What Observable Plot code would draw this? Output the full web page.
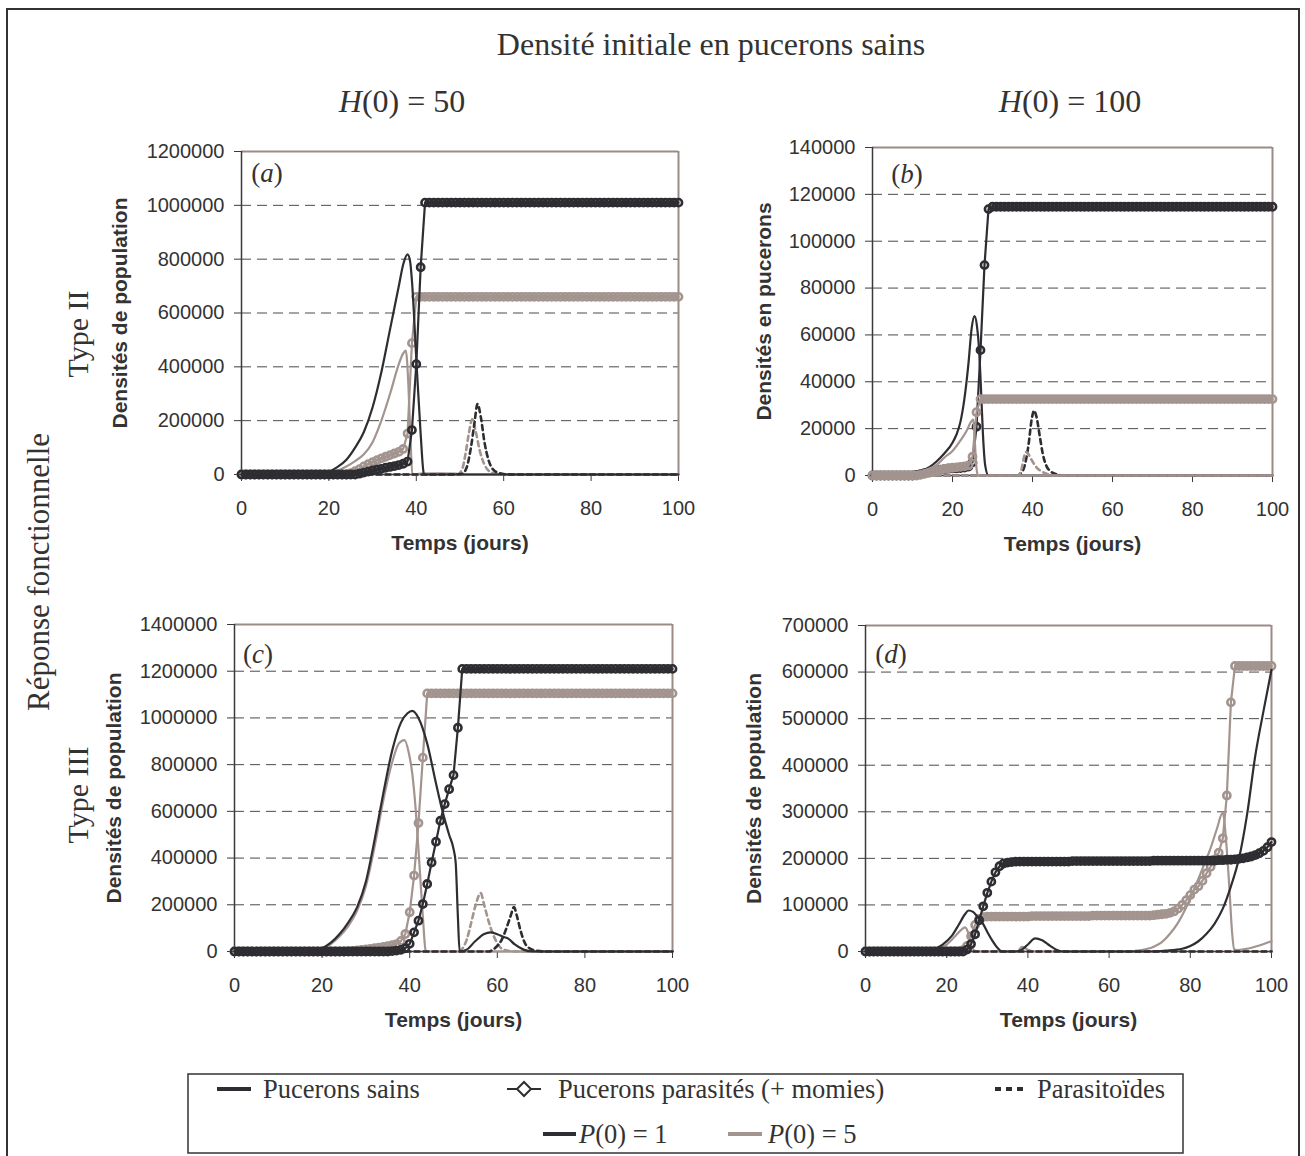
<!DOCTYPE html>
<html><head><meta charset="utf-8">
<script src="https://cdn.jsdelivr.net/npm/d3@7"></script>
<script src="https://cdn.jsdelivr.net/npm/@observablehq/plot@0.6"></script>
<style>
body{margin:0;background:#fff;}
#root{position:relative;width:1305px;height:1156px;overflow:hidden;background:#fff;}
.pn{position:absolute;}
#ov{position:absolute;left:0;top:0;}
</style>
</head><body>
<div id="root">
<svg id="ov" width="1305" height="1156" font-family="'Liberation Serif','Times New Roman',serif" fill="#333">
  <rect x="7" y="9" width="1292" height="1170" fill="none" stroke="#333" stroke-width="2"/>
  <text x="711" y="55" font-size="32" text-anchor="middle">Densité initiale en pucerons sains</text>
  <text x="402" y="112" font-size="32" text-anchor="middle"><tspan font-style="italic">H</tspan>(0) = 50</text>
  <text x="1070" y="112" font-size="32" text-anchor="middle"><tspan font-style="italic">H</tspan>(0) = 100</text>
  <text transform="translate(88,334) rotate(-90)" font-size="30" text-anchor="middle">Type II</text>
  <text transform="translate(88,795) rotate(-90)" font-size="30" text-anchor="middle">Type III</text>
  <text transform="translate(49,572) rotate(-90)" font-size="31" text-anchor="middle">Réponse fonctionnelle</text>
  <text x="267" y="182" font-size="27" text-anchor="middle">(<tspan font-style="italic">a</tspan>)</text>
  <text x="907" y="183" font-size="27" text-anchor="middle">(<tspan font-style="italic">b</tspan>)</text>
  <text x="258" y="663" font-size="27" text-anchor="middle">(<tspan font-style="italic">c</tspan>)</text>
  <text x="891" y="663" font-size="27" text-anchor="middle">(<tspan font-style="italic">d</tspan>)</text>
  <g id="legend">
    <rect x="188" y="1074" width="995" height="79" fill="#fff" stroke="#333" stroke-width="1.5"/>
    <line x1="217" x2="251" y1="1089" y2="1089" stroke="#2e2d32" stroke-width="4"/>
    <text x="263" y="1098" font-size="26.5">Pucerons sains</text>
    <line x1="507" x2="541" y1="1089" y2="1089" stroke="#2e2d32" stroke-width="2"/>
    <path d="M524,1082 L531,1089 L524,1096 L517,1089 Z" fill="#fff" stroke="#2e2d32" stroke-width="2"/>
    <text x="558" y="1098" font-size="26.5">Pucerons parasités (+ momies)</text>
    <line x1="995" x2="1026" y1="1089" y2="1089" stroke="#2e2d32" stroke-width="4" stroke-dasharray="6,5"/>
    <text x="1037" y="1098" font-size="26.5">Parasitoïdes</text>
    <line x1="543" x2="576" y1="1134" y2="1134" stroke="#2e2d32" stroke-width="4"/>
    <text x="579" y="1143" font-size="26.5"><tspan font-style="italic">P</tspan>(0) = 1</text>
    <line x1="728" x2="762" y1="1134" y2="1134" stroke="#a3948f" stroke-width="4"/>
    <text x="768" y="1143" font-size="26.5"><tspan font-style="italic">P</tspan>(0) = 5</text>
  </g>
</svg>
</div>
<script>
// ---------- DATA (population values in thousands) ----------
const xTicks = [0, 20, 40, 60, 80, 100];
const yTicksA = [0, 200000, 400000, 600000, 800000, 1000000, 1200000];
const yTicksB = [0, 20000, 40000, 60000, 80000, 100000, 120000, 140000];
const yTicksC = [0, 200000, 400000, 600000, 800000, 1000000, 1200000, 1400000];
const yTicksD = [0, 100000, 200000, 300000, 400000, 500000, 600000, 700000];

// Pucerons sains: [jour, densité (milliers)]
const aSain1 = [[0,0],[15,1],[18,4],[20,10],[22,28],[24,55],[26,100],[28,158],[30,250],[32,380],[34,540],[36,700],[37,780],[38,818],[38.6,790],[39,720],[40,430],[41,150],[41.7,5],[42,0],[100,0]];
const aSain5 = [[0,0],[18,2],[20,6],[22,15],[24,30],[26,50],[28,75],[30,120],[32,200],[34,300],[36,410],[37,450],[37.6,460],[38.2,330],[38.7,120],[39.1,0],[41,3],[45,4],[49,3],[51,0],[100,0]];
const bSain1 = [[0,0],[8,0.3],[10,0.8],[12,1.8],[14,3.3],[16,6],[18,9.5],[20,14],[21,17.5],[22,23],[23,33],[24,48],[24.8,63],[25.5,68],[26.1,64],[26.6,55],[27.1,38],[27.6,18],[28.2,4],[29,0],[100,0]];
const bSain5 = [[0,0],[10,0.8],[13,2.2],[16,4.5],[18,7.7],[20,10.5],[22,15],[23.5,19],[24.5,22.5],[25.2,24],[25.6,14],[26,3],[26.4,0],[100,0]];
const cSain1 = [[0,0],[16,1],[18,4],[20,14],[22,38],[24,75],[26,125],[28,190],[30,300],[32,480],[34,680],[36,860],[38,980],[39.5,1020],[40.6,1030],[42,1000],[44,890],[46,720],[47.5,600],[49,500],[50,440],[50.5,380],[51,150],[51.4,0],[53,8],[55,45],[57,75],[58.5,82],[60,74],[61.5,62],[62.5,55],[64,30],[66,8],[68,0],[100,0]];
const cSain5 = [[0,0],[16,1],[18,4],[20,12],[22,32],[24,65],[26,110],[28,175],[30,280],[32,450],[34,650],[36,810],[37.5,890],[38.8,905],[39.8,850],[40.6,760],[41.4,600],[42.2,380],[43,150],[43.7,0],[100,0]];
const dSain1 = [[0,0],[14,1],[16.4,4],[19,15],[21.3,34],[23,58],[24.5,80],[25.4,88],[26.5,85],[27.8,72],[28.7,63],[30,42],[31.2,24],[32.5,8],[33.6,0],[37,0],[38.5,4],[40,15],[41.8,28],[43.5,24],[45.5,12],[47,4],[48.5,0],[70,0],[74,2],[78,6],[80,12],[82,22],[84,38],[86,60],[88,92],[90,140],[92,200],[94,295],[96,420],[98,515],[100,605]];
const dSain5 = [[0,0],[15,1],[18,6],[20,15],[22,32],[23.5,46],[24.5,52],[25.3,40],[26,15],[26.8,2],[28,0],[37.5,0],[38.5,10],[39.3,7],[40.5,2],[42,0],[64,0],[68,3],[71,10],[73,20],[75,38],[77,62],[79,95],[81,135],[83,178],[85,222],[86.5,262],[88,298],[88.8,240],[89.6,140],[90.3,40],[90.8,5],[91.5,3],[94,6],[97,13],[100,22]];

// Pucerons parasités (+ momies): one value per day, days 0..100
const aPar1 = [
0,0,0,0,0,0,0,0,0,0,
0,0,0,0,0,0,0,0,0,0,
0,0,0,0,0,0,0,3,7,11,
15,18,21,25,28,31,35,40,48,165,
410,770,1010,1010,1010,1010,1010,1010,1010,1010,
1010,1010,1010,1010,1010,1010,1010,1010,1010,1010,
1010,1010,1010,1010,1010,1010,1010,1010,1010,1010,
1010,1010,1010,1010,1010,1010,1010,1010,1010,1010,
1010,1010,1010,1010,1010,1010,1010,1010,1010,1010,
1010,1010,1010,1010,1010,1010,1010,1010,1010,1010,
1010];
const aPar5 = [
0,0,0,0,0,0,0,0,0,0,
0,0,0,0,0,0,0,0,0,0,
0,0,0,0,0,5,12,20,30,38,
46,53,60,66,72,78,84,95,152,488,
660,660,660,660,660,660,660,660,660,660,
660,660,660,660,660,660,660,660,660,660,
660,660,660,660,660,660,660,660,660,660,
660,660,660,660,660,660,660,660,660,660,
660,660,660,660,660,660,660,660,660,660,
660,660,660,660,660,660,660,660,660,660,
660];
const bPar1 = [
0,0,0,0,0,0,0,0,0,0,
0,0.3,0.6,1,1.4,1.8,2.2,2.5,2.7,2.9,
3.0,3.1,3.2,3.4,3.8,5.6,20.8,53.5,89.8,113.7,
114.7,114.7,114.7,114.7,114.7,114.7,114.7,114.7,114.7,114.7,
114.7,114.7,114.7,114.7,114.7,114.7,114.7,114.7,114.7,114.7,
114.7,114.7,114.7,114.7,114.7,114.7,114.7,114.7,114.7,114.7,
114.7,114.7,114.7,114.7,114.7,114.7,114.7,114.7,114.7,114.7,
114.7,114.7,114.7,114.7,114.7,114.7,114.7,114.7,114.7,114.7,
114.7,114.7,114.7,114.7,114.7,114.7,114.7,114.7,114.7,114.7,
114.7,114.7,114.7,114.7,114.7,114.7,114.7,114.7,114.7,114.7,
114.7];
const bPar5 = [
0,0,0,0,0,0,0,0,0,0,
0,0,0.3,0.7,1.1,1.5,2.0,2.4,2.8,3.1,
3.3,3.5,3.7,3.9,4.3,8,27,32.6,32.6,32.6,
32.6,32.6,32.6,32.6,32.6,32.6,32.6,32.6,32.6,32.6,
32.6,32.6,32.6,32.6,32.6,32.6,32.6,32.6,32.6,32.6,
32.6,32.6,32.6,32.6,32.6,32.6,32.6,32.6,32.6,32.6,
32.6,32.6,32.6,32.6,32.6,32.6,32.6,32.6,32.6,32.6,
32.6,32.6,32.6,32.6,32.6,32.6,32.6,32.6,32.6,32.6,
32.6,32.6,32.6,32.6,32.6,32.6,32.6,32.6,32.6,32.6,
32.6,32.6,32.6,32.6,32.6,32.6,32.6,32.6,32.6,32.6,
32.6];
const cPar1 = [
0,0,0,0,0,0,0,0,0,0,
0,0,0,0,0,0,0,0,0,0,
0,0,0,0,0,0,0,0,0,0,
0,0,0,0,0,0,2,4,7,14,
33,82,132,203,289,381,470,560,631,695,
755,958,1210,1210,1210,1210,1210,1210,1210,1210,
1210,1210,1210,1210,1210,1210,1210,1210,1210,1210,
1210,1210,1210,1210,1210,1210,1210,1210,1210,1210,
1210,1210,1210,1210,1210,1210,1210,1210,1210,1210,
1210,1210,1210,1210,1210,1210,1210,1210,1210,1210,
1210];
const cPar5 = [
0,0,0,0,0,0,0,0,0,0,
0,0,0,0,0,0,0,0,0,0,
0,0,0,0,0,0,2,3,5,7,
9,11,14,17,20,23,27,32,45,75,
168,325,550,830,1105,1105,1105,1105,1105,1105,
1105,1105,1105,1105,1105,1105,1105,1105,1105,1105,
1105,1105,1105,1105,1105,1105,1105,1105,1105,1105,
1105,1105,1105,1105,1105,1105,1105,1105,1105,1105,
1105,1105,1105,1105,1105,1105,1105,1105,1105,1105,
1105,1105,1105,1105,1105,1105,1105,1105,1105,1105,
1105];
const dPar1 = [
0,0,0,0,0,0,0,0,0,0,
0,0,0,0,0,0,0,0,0,0,
0,0,0,0,0,4,16,37,67,97,
126,150,170,183,189,191,192,193,193,193,
193,193,193,193,193,193,193,193,193,193,
193,194,194,194,194,194,194,194,194,194,
194,194,194,194,194,194,194,194,194,194,
194,195,195,195,195,195,195,195,195,195,
195,195,195,195,195,195,195,196,196,197,
197,198,199,200,202,204,207,211,216,224,
235];
const dPar5 = [
0,0,0,0,0,0,0,0,0,0,
0,0,0,0,0,0,0,0,0,0,
0,0,0,0,3,12,33,57,70,74,
75,75,75,75,75,75,75,75,75,75,
75,76,76,76,76,76,76,76,76,76,
76,76,76,76,76,76,77,77,77,77,
77,77,77,77,77,77,77,77,77,77,
77,78,79,80,81,83,86,92,100,110,
121,133,140,152,168,182,198,212,243,335,
535,613,613,613,613,613,613,613,613,613,
613];

// Parasitoïdes: [jour, densité (milliers)]
const aPara1 = [[0,0],[46,0],[49,0.5],[50.5,3],[51.5,25],[52.5,100],[53.3,190],[54,262],[54.8,210],[55.6,120],[56.5,55],[57.5,20],[59,5],[61,0.5],[63,0],[100,0]];
const aPara5 = [[0,0],[46,0],[49.5,1],[50.5,20],[51.3,80],[52,150],[52.8,205],[53.6,160],[54.5,90],[55.5,40],[56.5,15],[58,4],[60,0],[100,0]];
const bPara1 = [[0,0],[36,0],[37,0.8],[38,4],[39,13],[39.8,24],[40.4,27.7],[41,25],[41.8,17],[42.6,9],[43.5,4],[44.5,1.8],[46,0.5],[48,0],[100,0]];
const bPara5 = [[0,0],[36.5,0],[37.3,3],[37.9,8],[38.4,10],[39,9],[40,6],[41,3.5],[42,2],[43.5,0.8],[45,0],[100,0]];
const cPara1 = [[0,0],[58,0],[59.5,15],[61,50],[62,95],[63,150],[63.8,190],[64.5,150],[65.3,90],[66.2,40],[67.5,12],[69,3],[71,0],[100,0]];
const cPara5 = [[0,0],[51,0],[52,12],[53,50],[54,120],[55,195],[56.2,250],[57,200],[58,130],[59,75],[60,35],[61,12],[62.5,3],[64,0],[100,0]];
const dPara1 = [[0,0],[100,0]];
const dPara5 = [[0,0],[100,0]];

// ---------- DRAWING ----------
const K = 1000;
const DARK = "#2e2d32", LIGHT = "#a3948f", FRAME = "#9a8b87", AX = "#3a3a3a";

function seriesMarks(sain, par, para, color) {
  const parData = par.map((v, i) => ({t: i, v: v * K}));
  return [
    Plot.line(sain, {x: d => d[0], y: d => d[1] * K, stroke: color, strokeWidth: 2.2, curve: "monotone-x"}),
    Plot.line(parData, {x: "t", y: "v", stroke: color, strokeWidth: 2.2}),
    Plot.dot(parData, {x: "t", y: "v", r: 3.6, stroke: color, strokeWidth: 2.6, fill: "none"}),
    Plot.line(para, {x: d => d[0], y: d => d[1] * K, stroke: color, strokeWidth: 2.6, strokeDasharray: "5,4", curve: "monotone-x"})
  ];
}

function panel(p) {
  const ymax = p.yTicks[p.yTicks.length - 1];
  const grid = p.yTicks.slice(1, -1);
  const chart = Plot.plot({
    width: p.width, height: p.height,
    marginLeft: p.mL, marginTop: p.mT, marginRight: p.mR, marginBottom: p.mB,
    x: {domain: [0, 100], axis: null},
    y: {domain: [0, ymax], axis: null},
    style: {background: "transparent", fontFamily: "'Liberation Sans', Arial, sans-serif", fontSize: "20px", color: "#333", overflow: "visible"},
    marks: [
      Plot.gridY(grid, {stroke: "#4a4a4a", strokeOpacity: 1, strokeWidth: 1, strokeDasharray: "10,6"}),
      Plot.ruleY([ymax], {stroke: FRAME, strokeWidth: 2}),
      Plot.ruleX([100], {stroke: FRAME, strokeWidth: 2}),
      Plot.ruleX([0], {stroke: AX, strokeWidth: 1.5}),
      Plot.ruleY([0], {stroke: AX, strokeWidth: 1.5}),
      Plot.axisY({ticks: p.yTicks, tickSize: 7, tickPadding: 10, tickFormat: d => String(d), label: null, stroke: AX, fill: "#333"}),
      Plot.axisX({ticks: xTicks, tickSize: 7, tickPadding: 19, tickFormat: d => String(d), label: null, stroke: AX, fill: "#333"}),
      ...p.groups.flatMap(g => seriesMarks(g[0], g[1], g[2], g[3])),
      Plot.text(["Temps (jours)"], {frameAnchor: "bottom", textAnchor: "middle", lineAnchor: "middle", dy: 69, fontWeight: "bold", fontSize: 21, fill: "#333"}),
      Plot.text([p.yLabel], {frameAnchor: "left", textAnchor: "middle", lineAnchor: "middle", rotate: -90, dx: p.yLabDx, fontWeight: "bold", fontSize: 21, fill: "#333"})
    ]
  });
  chart.classList.add("pn");
  chart.style.left = p.left + "px";
  chart.style.top = p.top + "px";
  document.getElementById("root").appendChild(chart);
}

panel({left: 100, top: 130, width: 605, height: 429, mL: 141, mT: 21, mR: 27, mB: 85,
  yTicks: yTicksA, yLabel: "Densités de population", yLabDx: -121,
  groups: [[aSain5, aPar5, aPara5, LIGHT], [aSain1, aPar1, aPara1, DARK]]});
panel({left: 740, top: 126, width: 559, height: 434, mL: 132, mT: 21, mR: 27, mB: 85,
  yTicks: yTicksB, yLabel: "Densités en pucerons", yLabDx: -108,
  groups: [[bSain1, bPar1, bPara1, DARK], [bSain5, bPar5, bPara5, LIGHT]]});
panel({left: 90, top: 603, width: 609, height: 433, mL: 144, mT: 21, mR: 27, mB: 85,
  yTicks: yTicksC, yLabel: "Densités de population", yLabDx: -120,
  groups: [[cSain5, cPar5, cPara5, LIGHT], [cSain1, cPar1, cPara1, DARK]]});
panel({left: 735, top: 604, width: 563, height: 432, mL: 130, mT: 21, mR: 27, mB: 85,
  yTicks: yTicksD, yLabel: "Densités de population", yLabDx: -111,
  groups: [[dSain5, dPar5, dPara5, LIGHT], [dSain1, dPar1, dPara1, DARK]]});
</script>
</body></html>
